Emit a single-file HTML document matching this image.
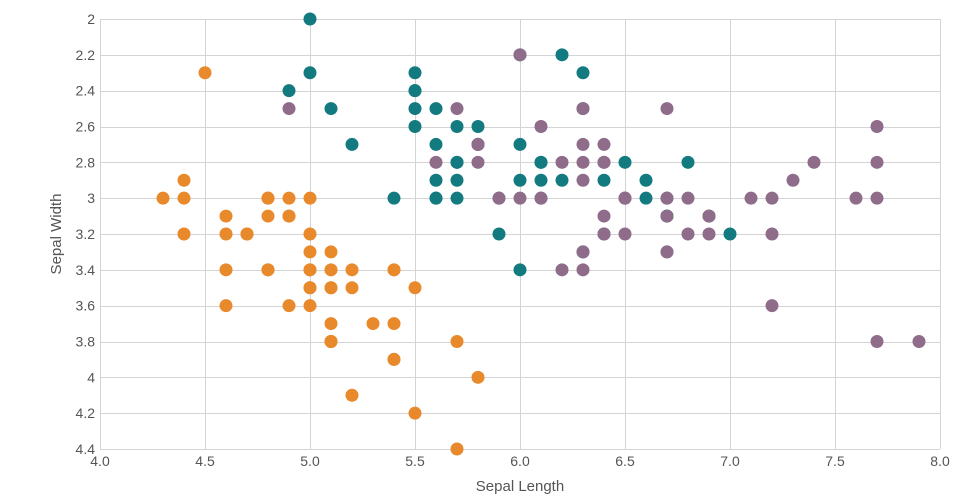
<!DOCTYPE html>
<html><head><meta charset="utf-8"><style>
html,body{margin:0;padding:0;background:#fff;width:960px;height:500px;overflow:hidden}
text{font-family:"Liberation Sans",sans-serif;fill:#555}
</style></head><body>
<svg id="s" width="960" height="500" xmlns="http://www.w3.org/2000/svg">
<g id="grid" stroke="#d4d4d4" stroke-width="1"></g>
<g id="lab" font-size="14"></g>
<text x="520" y="491" text-anchor="middle" font-size="15">Sepal Length</text>
<text transform="translate(61,234) rotate(-90)" text-anchor="middle" font-size="15">Sepal Width</text>
<g id="pts"></g>
</svg>
<script>
var X=function(v){return 100+(v-4)*210},Y=function(v){return 19+(v-2)*(430/2.4)};
var g=document.getElementById('grid'),l=document.getElementById('lab'),p=document.getElementById('pts'),h='',t='';
for(var i=0;i<=8;i++){var v=4+i*0.5,x=X(v)+0.5;h+='<line x1="'+x+'" y1="19" x2="'+x+'" y2="449"/>';t+='<text x="'+X(v)+'" y="466" text-anchor="middle">'+v.toFixed(1)+'</text>';}
for(var j=0;j<=12;j++){var v=2+j*0.2,y=Math.round(Y(v))+0.5;h+='<line x1="100" y1="'+y+'" x2="940" y2="'+y+'"/>';var s=(Math.round(v*10)/10).toString();t+='<text x="95" y="'+(Y(v)+5)+'" text-anchor="end">'+s+'</text>';}
g.innerHTML=h;l.innerHTML=t;
var se="5.1,3.5 4.9,3.0 4.7,3.2 4.6,3.1 5.0,3.6 5.4,3.9 4.6,3.4 5.0,3.4 4.4,2.9 4.9,3.1 5.4,3.7 4.8,3.4 4.8,3.0 4.3,3.0 5.8,4.0 5.7,4.4 5.4,3.9 5.1,3.5 5.7,3.8 5.1,3.8 5.4,3.4 5.1,3.7 4.6,3.6 5.1,3.3 4.8,3.4 5.0,3.0 5.0,3.4 5.2,3.5 5.2,3.4 4.7,3.2 4.8,3.1 5.4,3.4 5.2,4.1 5.5,4.2 4.9,3.1 5.0,3.2 5.5,3.5 4.9,3.6 4.4,3.0 5.1,3.4 5.0,3.5 4.5,2.3 4.4,3.2 5.0,3.5 5.1,3.8 4.8,3.0 5.1,3.8 4.6,3.2 5.3,3.7 5.0,3.3";
var ve="7.0,3.2 6.4,3.2 6.9,3.1 5.5,2.3 6.5,2.8 5.7,2.8 6.3,3.3 4.9,2.4 6.6,2.9 5.2,2.7 5.0,2.0 5.9,3.0 6.0,2.2 6.1,2.9 5.6,2.9 6.7,3.1 5.6,3.0 5.8,2.7 6.2,2.2 5.6,2.5 5.9,3.2 6.1,2.8 6.3,2.5 6.1,2.8 6.4,2.9 6.6,3.0 6.8,2.8 6.7,3.0 6.0,2.9 5.7,2.6 5.5,2.4 5.5,2.4 5.8,2.7 6.0,2.7 5.4,3.0 6.0,3.4 6.7,3.1 6.3,2.3 5.6,3.0 5.5,2.5 5.5,2.6 6.1,3.0 5.8,2.6 5.0,2.3 5.6,2.7 5.7,3.0 5.7,2.9 6.2,2.9 5.1,2.5 5.7,2.8";
var vi="6.3,3.3 5.8,2.7 7.1,3.0 6.3,2.9 6.5,3.0 7.6,3.0 4.9,2.5 7.3,2.9 6.7,2.5 7.2,3.6 6.5,3.2 6.4,2.7 6.8,3.0 5.7,2.5 5.8,2.8 6.4,3.2 6.5,3.0 7.7,3.8 7.7,2.6 6.0,2.2 6.9,3.2 5.6,2.8 7.7,2.8 6.3,2.7 6.7,3.3 7.2,3.2 6.2,2.8 6.1,3.0 6.4,2.8 7.2,3.0 7.4,2.8 7.9,3.8 6.4,2.8 6.3,2.8 6.1,2.6 7.7,3.0 6.3,3.4 6.4,3.1 6.0,3.0 6.9,3.1 6.7,3.1 6.9,3.1 5.8,2.7 6.8,3.2 6.7,3.3 6.7,3.0 6.3,2.5 6.5,3.0 6.2,3.4 5.9,3.0";
var out='';
[[se,'#e8892b'],[ve,'#137b80'],[vi,'#8e6c8a']].forEach(function(d){d[0].split(' ').forEach(function(q){var a=q.split(',');out+='<circle cx="'+X(+a[0])+'" cy="'+Y(+a[1])+'" r="6.5" fill="'+d[1]+'"/>';});});
p.innerHTML=out;
</script>
</body></html>
